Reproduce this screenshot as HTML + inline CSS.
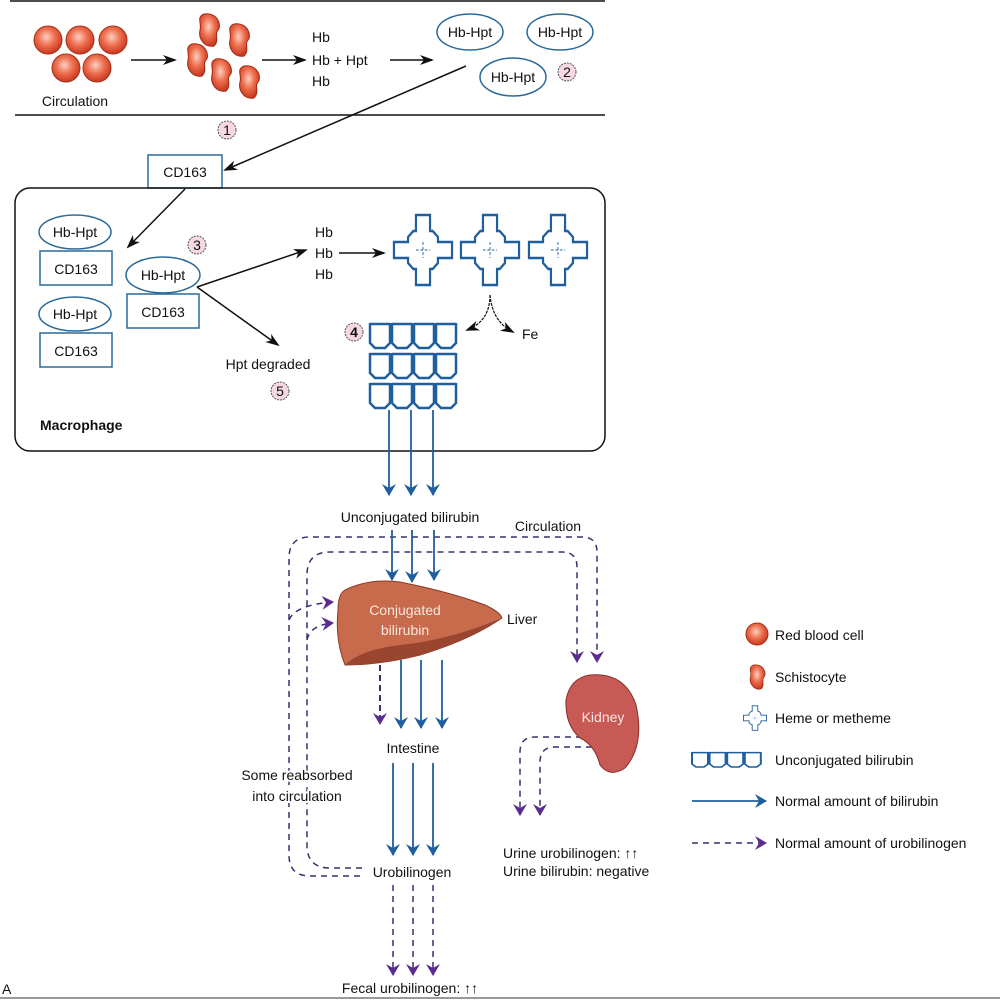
<!DOCTYPE html>
<html><head><meta charset="utf-8"><style>
html,body{margin:0;padding:0;background:#fff}
svg{display:block}
text{font-family:"Liberation Sans",sans-serif;font-size:14px;fill:#111}
</style></head><body>
<svg width="1000" height="1000" viewBox="0 0 1000 1000" xmlns="http://www.w3.org/2000/svg">
<defs>
<radialGradient id="rbc" cx="45%" cy="40%" r="60%"><stop offset="0" stop-color="#fbd0c0"/><stop offset="0.5" stop-color="#ee7050"/><stop offset="1" stop-color="#c8381e"/></radialGradient>
<marker id="ak" markerWidth="14" markerHeight="10" refX="12" refY="5" orient="auto" markerUnits="userSpaceOnUse"><path d="M0,0 L14,5 L0,10 L4,5z" fill="#111"/></marker>
<marker id="ab" markerWidth="12" markerHeight="14" refX="11" refY="7" orient="auto" markerUnits="userSpaceOnUse"><path d="M0,0 L12,7 L0,14 L4,7z" fill="#1f5f9e"/></marker>
<marker id="ap" markerWidth="12" markerHeight="14" refX="11" refY="7" orient="auto" markerUnits="userSpaceOnUse"><path d="M0,0 L12,7 L0,14 L4,7z" fill="#5b2c90"/></marker>
<g id="heme" fill="#fff" stroke="#1f5f9e" stroke-width="2.5">
<path d="M-8,-35 h16 v16 h3 l6,6 v5 h16 v16 h-16 v5 l-6,6 h-3 v16 h-16 v-16 h-3 l-6,-6 v-5 h-16 v-16 h16 v-5 l6,-6 h3z"/>
<path d="M-8,0 h16 M0,-8 v16" stroke-width="1" stroke-dasharray="3,2"/>
</g>
<g id="bil" fill="none" stroke="#1f5f9e" stroke-width="2.5">
<path d="M0,0 v20 l5,5 h10 l5,-5 v-20 M22,0 v20 l5,5 h10 l5,-5 v-20 M44,0 v20 l5,5 h10 l5,-5 v-20 M66,0 v20 l5,5 h10 l5,-5 v-20 M0,1 h20 M22,1 h20 M44,1 h20 M66,1 h20"/>
</g>
<g id="sch"><path d="M-6,-16 C8,-18 12,-4 8,0 C4,4 10,10 4,16 C-6,18 -12,8 -10,0 C-8,-8 -14,-12 -6,-16z" fill="url(#rbc)" stroke="#9c2a12" stroke-width="1"/></g>
</defs>

<line x1="10" y1="1" x2="605" y2="1" stroke="#111" stroke-width="1.5"/>
<line x1="15" y1="115" x2="605" y2="115" stroke="#111" stroke-width="1.5"/>
<g fill="url(#rbc)" stroke="#a83018" stroke-width="1">
<circle cx="48" cy="40" r="14"/><circle cx="80" cy="40" r="14"/><circle cx="113" cy="40" r="14"/>
<circle cx="66" cy="68" r="14"/><circle cx="97" cy="68" r="14"/>
</g>
<text x="75" y="106" text-anchor="middle">Circulation</text>
<line x1="131" y1="60" x2="175" y2="60" stroke="#111" stroke-width="1.5" marker-end="url(#ak)"/>
<use href="#sch" x="210" y="30"/><use href="#sch" x="240" y="40"/><use href="#sch" x="198" y="60"/>
<use href="#sch" x="222" y="75"/><use href="#sch" x="250" y="82"/>
<line x1="262" y1="60" x2="305" y2="60" stroke="#111" stroke-width="1.5" marker-end="url(#ak)"/>
<text x="312" y="42">Hb</text><text x="312" y="65">Hb + Hpt</text><text x="312" y="86">Hb</text>
<line x1="390" y1="60" x2="432" y2="60" stroke="#111" stroke-width="1.5" marker-end="url(#ak)"/>
<g fill="#fff" stroke="#2a6a9a" stroke-width="1.5">
<ellipse cx="470" cy="32" rx="33" ry="18"/><ellipse cx="560" cy="32" rx="33" ry="18"/><ellipse cx="513" cy="77" rx="33" ry="19"/>
</g>
<text x="470" y="37" text-anchor="middle">Hb-Hpt</text><text x="560" y="37" text-anchor="middle">Hb-Hpt</text><text x="513" y="82" text-anchor="middle">Hb-Hpt</text>
<g fill="#f6d8e2" stroke="#555" stroke-width="1" stroke-dasharray="2,1">
<circle cx="567" cy="72" r="9"/><circle cx="227" cy="130" r="9"/><circle cx="197" cy="245" r="9"/><circle cx="354" cy="332" r="9"/><circle cx="280" cy="391" r="9"/>
</g>
<g font-size="13" text-anchor="middle"><text x="567" y="77">2</text><text x="227" y="135">1</text><text x="197" y="250">3</text><text x="354" y="337" font-weight="bold">4</text><text x="280" y="396">5</text></g>
<line x1="466" y1="66" x2="225" y2="170" stroke="#111" stroke-width="1.5" marker-end="url(#ak)"/>
<rect x="148" y="155" width="74" height="33" fill="#fff" stroke="#2a6a9a" stroke-width="1.5"/>
<text x="185" y="177" text-anchor="middle">CD163</text>

<rect x="15" y="188" width="590" height="263" rx="15" fill="none" stroke="#111" stroke-width="1.5"/>
<line x1="185" y1="189" x2="128" y2="247" stroke="#111" stroke-width="1.5" marker-end="url(#ak)"/>
<g fill="#fff" stroke="#2a6a9a" stroke-width="1.5">
<ellipse cx="75" cy="232" rx="36" ry="17"/><rect x="40" y="251" width="72" height="34"/>
<ellipse cx="75" cy="314" rx="36" ry="17"/><rect x="40" y="333" width="72" height="34"/>
<rect x="127" y="294" width="72" height="34"/><ellipse cx="163" cy="275" rx="37" ry="18"/>
</g>
<text x="75" y="237" text-anchor="middle">Hb-Hpt</text><text x="76" y="274" text-anchor="middle">CD163</text>
<text x="75" y="319" text-anchor="middle">Hb-Hpt</text><text x="76" y="356" text-anchor="middle">CD163</text>
<text x="163" y="280" text-anchor="middle">Hb-Hpt</text><text x="163" y="317" text-anchor="middle">CD163</text>
<line x1="197" y1="287" x2="306" y2="250" stroke="#111" stroke-width="1.5" marker-end="url(#ak)"/>
<line x1="197" y1="287" x2="278" y2="345" stroke="#111" stroke-width="1.5" marker-end="url(#ak)"/>
<text x="268" y="369" text-anchor="middle">Hpt degraded</text>
<text x="315" y="237">Hb</text><text x="315" y="258">Hb</text><text x="315" y="279">Hb</text>
<line x1="339" y1="253" x2="384" y2="253" stroke="#111" stroke-width="1.5" marker-end="url(#ak)"/>
<use href="#heme" transform="translate(423,250) scale(0.88,1)"/><use href="#heme" transform="translate(490,250) scale(0.88,1)"/><use href="#heme" transform="translate(558,250) scale(0.88,1)"/>
<path d="M490,295 C490,315 480,325 467,330" fill="none" stroke="#111" stroke-width="1.2" stroke-dasharray="3,1" marker-end="url(#ak)"/>
<path d="M490,295 C492,315 500,325 513,332" fill="none" stroke="#111" stroke-width="1.2" stroke-dasharray="3,1" marker-end="url(#ak)"/>
<text x="522" y="339">Fe</text>
<use href="#bil" x="370" y="323"/><use href="#bil" x="370" y="353"/><use href="#bil" x="370" y="383"/>
<text x="40" y="430" font-weight="bold">Macrophage</text>
<g stroke="#1f5f9e" stroke-width="1.8">
<line x1="389" y1="410" x2="389" y2="495" marker-end="url(#ab)"/><line x1="411" y1="410" x2="411" y2="495" marker-end="url(#ab)"/><line x1="433" y1="410" x2="433" y2="495" marker-end="url(#ab)"/>
</g>
<text x="410" y="522" text-anchor="middle">Unconjugated bilirubin</text>
<text x="548" y="531" text-anchor="middle">Circulation</text>

<g fill="none" stroke="#3a2f70" stroke-width="1.5" stroke-dasharray="6,5">
<path d="M360,876 H310 Q289,876 289,855 V558 Q289,537 310,537 H582 Q597,537 597,552 V662" marker-end="url(#ap)"/>
<path d="M362,868 H330 Q307,868 307,845 V575 Q307,552 330,552 H562 Q577,552 577,567 V662" marker-end="url(#ap)"/>
<path d="M289,620 Q295,605 333,602" marker-end="url(#ap)"/>
<path d="M307,640 Q310,625 333,623" marker-end="url(#ap)"/>
<path d="M582,737 H535 Q520,737 520,752 V815" marker-end="url(#ap)"/>
<path d="M592,747 H555 Q540,747 540,762 V815" marker-end="url(#ap)"/>
</g>
<g stroke="#1f5f9e" stroke-width="1.8">
<line x1="392" y1="530" x2="392" y2="580" marker-end="url(#ab)"/><line x1="412" y1="530" x2="412" y2="582" marker-end="url(#ab)"/><line x1="434" y1="530" x2="434" y2="580" marker-end="url(#ab)"/>
</g>
<path d="M345,590 Q370,578 400,582 Q450,592 485,605 Q500,612 502,618 Q470,640 420,655 Q380,665 345,665 Q335,640 338,610 Q338,594 345,590z" fill="#c86a4c" stroke="#8a3a24" stroke-width="1"/>
<path d="M345,665 Q360,650 400,645 Q450,640 502,618 Q470,640 420,655 Q380,665 345,665z" fill="#9a4530"/>
<text x="405" y="615" text-anchor="middle" style="fill:#fbe6dc">Conjugated</text>
<text x="405" y="635" text-anchor="middle" style="fill:#fbe6dc">bilirubin</text>
<text x="507" y="624">Liver</text>
<line x1="380" y1="665" x2="380" y2="724" stroke="#3a2f70" stroke-width="2" stroke-dasharray="6,4" marker-end="url(#ap)"/>
<g stroke="#1f5f9e" stroke-width="1.8">
<line x1="401" y1="660" x2="401" y2="728" marker-end="url(#ab)"/><line x1="421" y1="660" x2="421" y2="728" marker-end="url(#ab)"/><line x1="442" y1="660" x2="442" y2="728" marker-end="url(#ab)"/>
<line x1="393" y1="763" x2="393" y2="855" marker-end="url(#ab)"/><line x1="413" y1="763" x2="413" y2="855" marker-end="url(#ab)"/><line x1="433" y1="763" x2="433" y2="855" marker-end="url(#ab)"/>
</g>
<text x="413" y="753" text-anchor="middle">Intestine</text>
<text x="412" y="877" text-anchor="middle">Urobilinogen</text>
<g stroke="#3a2f70" stroke-width="1.5" stroke-dasharray="6,5">
<line x1="393" y1="885" x2="393" y2="975" marker-end="url(#ap)"/><line x1="413" y1="885" x2="413" y2="975" marker-end="url(#ap)"/><line x1="433" y1="885" x2="433" y2="975" marker-end="url(#ap)"/>
</g>
<text x="410" y="993" text-anchor="middle">Fecal urobilinogen: ↑↑</text>
<text x="297" y="780" text-anchor="middle" style="paint-order:stroke;stroke:#fff;stroke-width:4px">Some reabsorbed</text>
<text x="297" y="801" text-anchor="middle" style="paint-order:stroke;stroke:#fff;stroke-width:4px">into circulation</text>
<path d="M590,675 Q625,672 636,705 Q645,745 625,768 Q610,778 600,765 Q595,745 580,738 Q565,725 566,700 Q570,678 590,675z" fill="#c85a55" stroke="#8a2e2a" stroke-width="1"/>
<text x="603" y="722" text-anchor="middle" style="fill:#fbe6e4">Kidney</text>
<text x="503" y="858">Urine urobilinogen: ↑↑</text>
<text x="503" y="876">Urine bilirubin: negative</text>

<circle cx="757" cy="634" r="11" fill="url(#rbc)" stroke="#a83018"/>
<text x="775" y="640">Red blood cell</text>
<use href="#sch" transform="translate(758,677) scale(0.75)"/>
<text x="775" y="682">Schistocyte</text>
<use href="#heme" transform="translate(755,718) scale(0.35)"/>
<text x="775" y="723">Heme or metheme</text>
<use href="#bil" transform="translate(692,752) scale(0.8,0.6)"/>
<text x="775" y="765">Unconjugated bilirubin</text>
<line x1="692" y1="801" x2="766" y2="801" stroke="#1f5f9e" stroke-width="1.8" marker-end="url(#ab)"/>
<text x="775" y="806">Normal amount of bilirubin</text>
<line x1="692" y1="843" x2="766" y2="843" stroke="#3a2f70" stroke-width="1.5" stroke-dasharray="6,5" marker-end="url(#ap)"/>
<text x="775" y="848">Normal amount of urobilinogen</text>
<text x="2" y="994" font-size="15">A</text>
<line x1="0" y1="998" x2="1000" y2="998" stroke="#999" stroke-width="2"/>
</svg>
</body></html>
